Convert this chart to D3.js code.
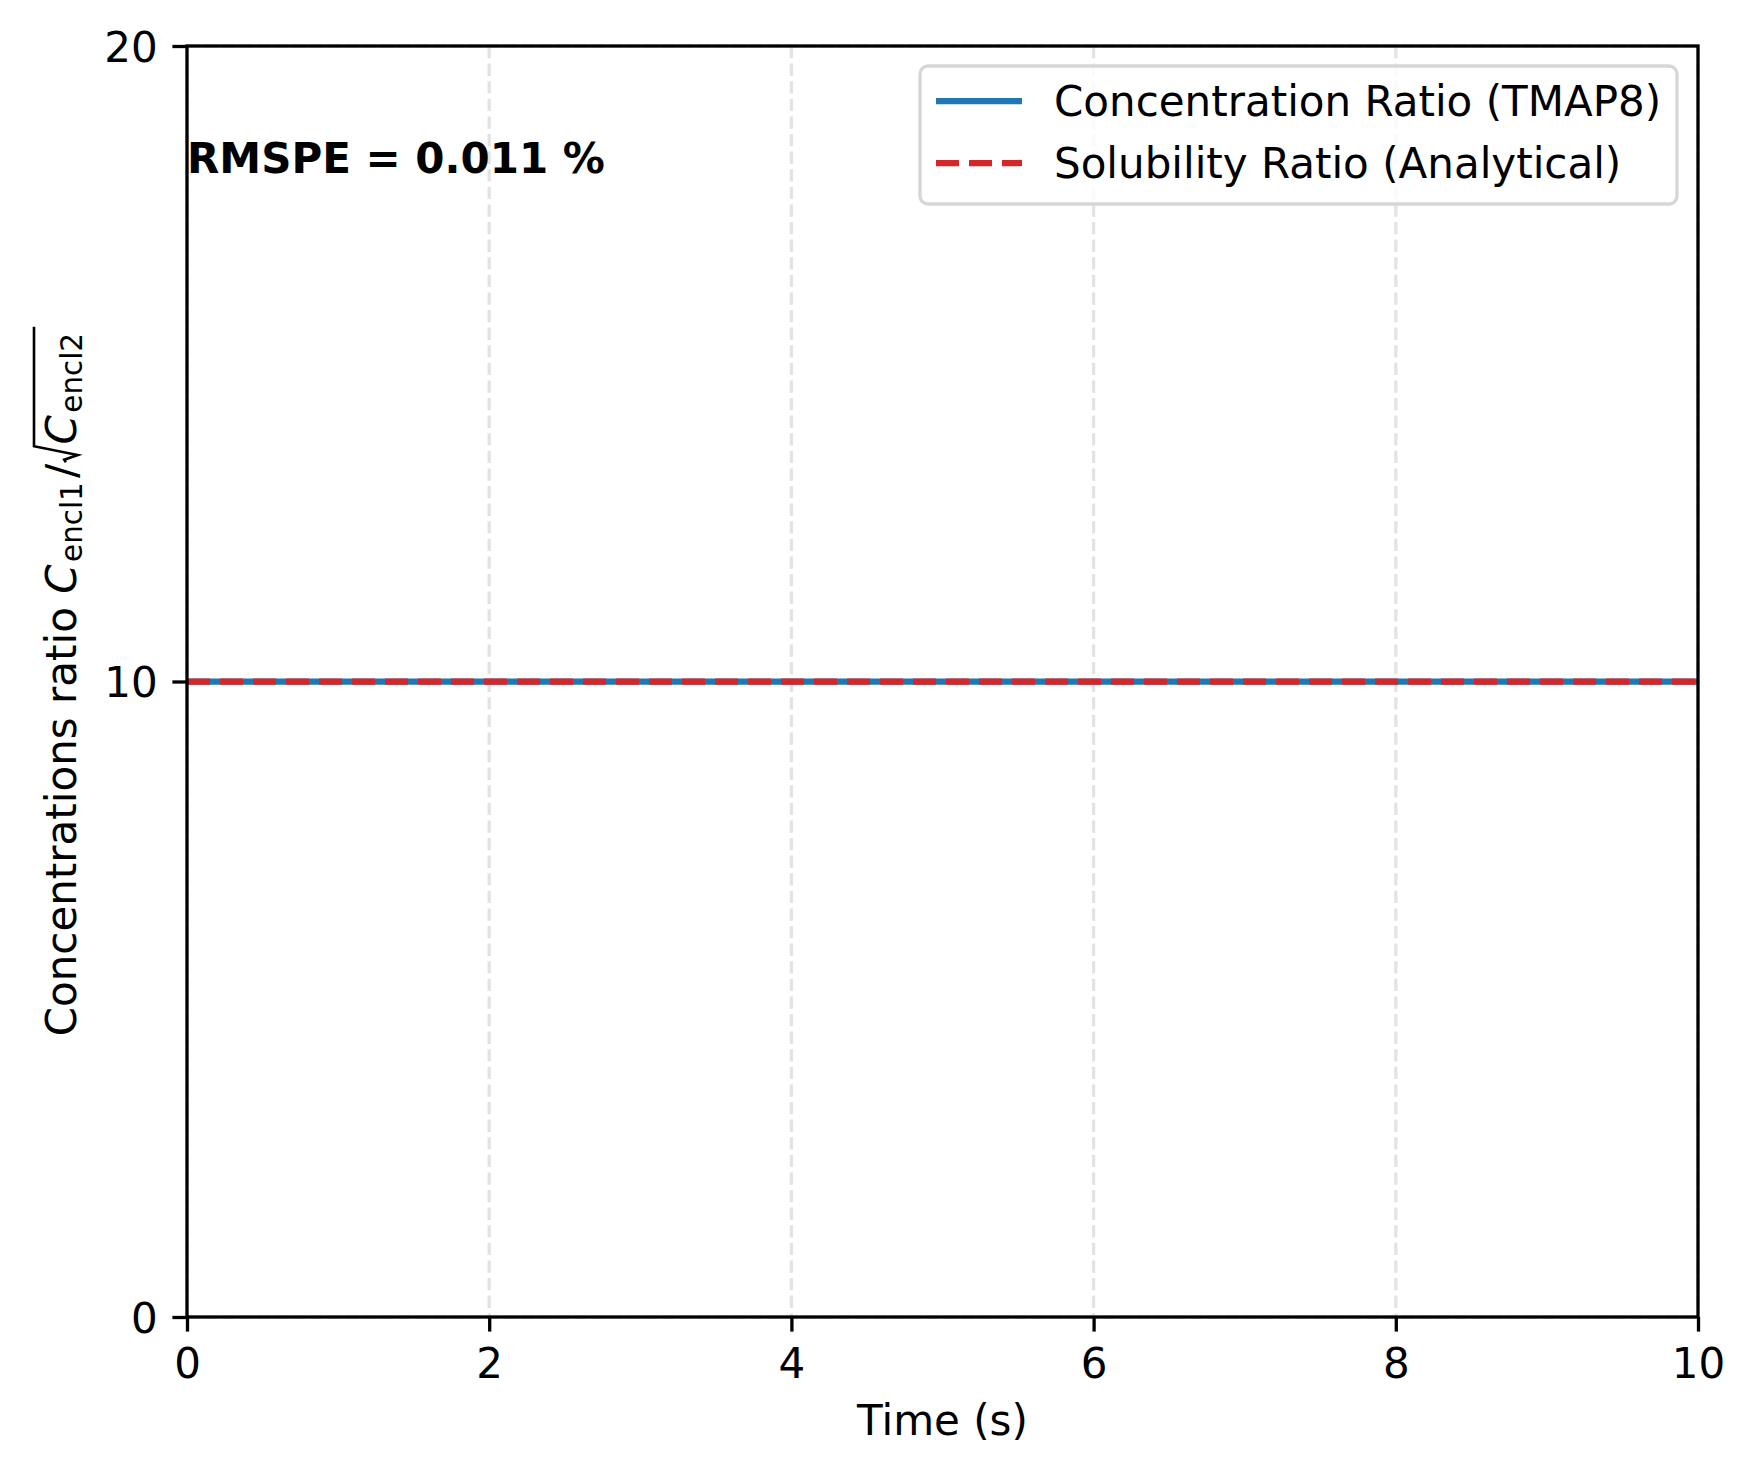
<!DOCTYPE html>
<html>
<head>
<meta charset="utf-8">
<script src="https://cdn.jsdelivr.net/npm/d3@7"></script>
<style>
  html, body { margin: 0; padding: 0; background: #fff; }
  svg { display: block; }
  text { font-family: "DejaVu Sans", sans-serif; fill: #000; }
</style>
</head>
<body>
<svg id="chart" width="1755" height="1476"></svg>
<script>
// data
var time = [0, 2, 4, 6, 8, 10];
var concRatio = [10, 10, 10, 10, 10, 10];      // TMAP8
var solubilityRatio = [10, 10, 10, 10, 10, 10]; // analytical
var xTicks = [0, 2, 4, 6, 8, 10];
var yTicks = [0, 10, 20];
var seriesNames = ["Concentration Ratio (TMAP8)", "Solubility Ratio (Analytical)"];
var seriesColors = ["#1f77b4", "#d62728"];
var rmspeText = "RMSPE = 0.011 %";

var FS = 42;
var LW = 6.25;
var pLeft = 187, pRight = 1698, pTop = 46, pBottom = 1317;

var svg = d3.select("#chart");

var x = d3.scaleLinear().domain([0, 10]).range([pLeft, pRight]);
var y = d3.scaleLinear().domain([0, 20]).range([pBottom, pTop]);

svg.append("rect").attr("width", 1755).attr("height", 1476).attr("fill", "#fff");

// grid
var grid = svg.append("g");
grid.selectAll(".gx").data(xTicks).enter().append("line")
  .attr("x1", function(d){ return x(d); }).attr("x2", function(d){ return x(d); })
  .attr("y1", pTop).attr("y2", pBottom)
  .attr("stroke", "#e3e3e3").attr("stroke-width", 3.3).attr("stroke-dasharray", "12.3,5.3");
grid.selectAll(".gy").data(yTicks).enter().append("line")
  .attr("y1", function(d){ return y(d); }).attr("y2", function(d){ return y(d); })
  .attr("x1", pLeft).attr("x2", pRight)
  .attr("stroke", "#e3e3e3").attr("stroke-width", 3.3).attr("stroke-dasharray", "12.3,5.3");

// clip
svg.append("clipPath").attr("id", "clip").append("rect")
  .attr("x", pLeft).attr("y", pTop).attr("width", pRight - pLeft).attr("height", pBottom - pTop);

var line = d3.line().x(function(d){ return x(d[0]); }).y(function(d){ return y(d[1]); });

var plot = svg.append("g").attr("clip-path", "url(#clip)");
plot.append("path").datum(d3.zip(time, concRatio)).attr("d", line)
  .attr("fill", "none").attr("stroke", seriesColors[0]).attr("stroke-width", LW);
plot.append("path").datum(d3.zip(time, solubilityRatio)).attr("d", line)
  .attr("fill", "none").attr("stroke", seriesColors[1]).attr("stroke-width", LW)
  .attr("stroke-dasharray", "23,10");

// axes
var xAxis = svg.append("g").attr("transform", "translate(0," + pBottom + ")")
  .call(d3.axisBottom(x).tickValues(xTicks).tickFormat(d3.format("d")).tickSize(14.6).tickPadding(14.6));
var yAxis = svg.append("g").attr("transform", "translate(" + pLeft + ",0)")
  .call(d3.axisLeft(y).tickValues(yTicks).tickFormat(d3.format("d")).tickSize(14.6).tickPadding(14.6));
[xAxis, yAxis].forEach(function(a){
  a.select(".domain").remove();
  a.selectAll(".tick line").attr("stroke", "#000").attr("stroke-width", 3.3);
  a.selectAll(".tick text").style("font-size", FS + "px").style("font-family", "DejaVu Sans").attr("fill", "#000");
});
xAxis.selectAll(".tick text").attr("dy", "0.76em");
yAxis.selectAll(".tick text").attr("dy", "0.36em");

// spines
svg.append("rect").attr("x", pLeft).attr("y", pTop).attr("width", pRight - pLeft).attr("height", pBottom - pTop)
  .attr("fill", "none").attr("stroke", "#000").attr("stroke-width", 3.3);

// RMSPE label at axes (0, 0.9)
svg.append("text").attr("x", x(0)).attr("y", y(18))
  .style("font-size", FS + "px").style("font-weight", "bold").text(rmspeText);

// x label
svg.append("text").attr("x", (pLeft + pRight) / 2).attr("y", 1435).attr("text-anchor", "middle")
  .style("font-size", FS + "px").text("Time (s)");

// y label with math
var yl = svg.append("g").attr("transform", "translate(76," + ((pTop + pBottom) / 2) + ") rotate(-90)");
var inner = yl.append("g");
var cx = 0;
function piece(str, size, italic, dy) {
  var t = inner.append("text").attr("x", cx).attr("y", dy || 0)
    .style("font-size", size + "px").style("font-style", italic ? "italic" : "normal").text(str);
  cx += t.node().getComputedTextLength();
  return t;
}
piece("Concentrations ratio", FS);
cx += FS * 0.318;
piece("C", FS, true);
cx += FS * 0.06;
piece("encl1", FS * 0.7, false, FS * 0.14);
cx += FS * 0.1;
piece("/", FS);
var rx = cx + FS * 0.04;
cx = rx + FS * 0.42;
piece("C", FS, true);
cx += FS * 0.06;
piece("encl2", FS * 0.7, false, FS * 0.14);
var endX = cx + FS * 0.15;
inner.append("path")
  .attr("d", "M" + rx + "," + (-0.24 * FS) + " L" + (rx + 0.06 * FS) + "," + (-0.28 * FS) +
    " L" + (rx + 0.17 * FS) + "," + (0.04 * FS) + " L" + (rx + 0.38 * FS) + "," + (-1.0 * FS) +
    " L" + endX + "," + (-1.0 * FS))
  .attr("fill", "none").attr("stroke", "#000").attr("stroke-width", 2.6).attr("stroke-linejoin", "miter");
inner.attr("transform", "translate(" + (-endX / 2) + ",0)");

// legend
var lg = svg.append("g");
lg.append("rect").attr("x", 920).attr("y", 66).attr("width", 757).attr("height", 138)
  .attr("rx", 8).attr("fill", "#fff").attr("fill-opacity", 0.8)
  .attr("stroke", "#d6d6d6").attr("stroke-width", 3.3);
var rows = [101, 163];
seriesNames.forEach(function(name, i){
  lg.append("line").attr("x1", 936).attr("x2", 1022).attr("y1", rows[i]).attr("y2", rows[i])
    .attr("stroke", seriesColors[i]).attr("stroke-width", LW)
    .attr("stroke-dasharray", i === 1 ? "23,10" : null);
  lg.append("text").attr("x", 1054).attr("y", rows[i]).attr("dy", "0.36em")
    .style("font-size", FS + "px").text(name);
});
</script>
</body>
</html>
